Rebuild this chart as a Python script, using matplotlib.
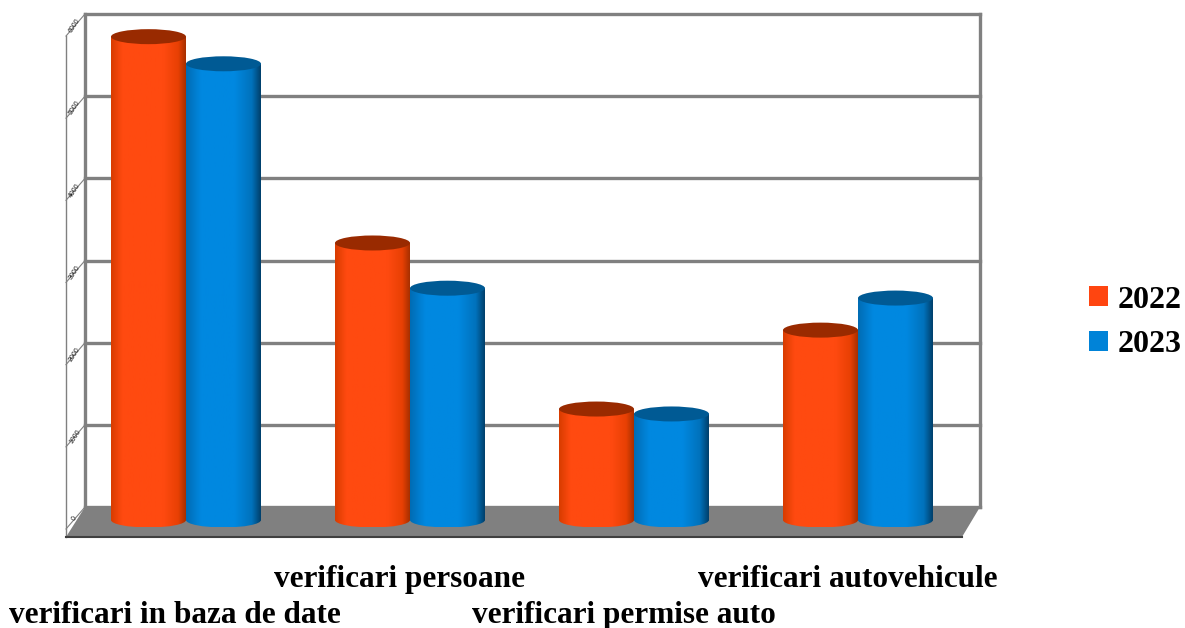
import matplotlib
matplotlib.use('Agg')
import matplotlib.pyplot as plt
import numpy as np
from matplotlib.colors import LinearSegmentedColormap
from matplotlib.patches import Ellipse, Patch, PathPatch, Polygon
from matplotlib.path import Path

categories = ['verificari in baza de date', 'verificari persoane',
              'verificari permise auto', 'verificari autovehicule']
values_2022 = [5880, 3370, 1350, 2310]
values_2023 = [5550, 2820, 1290, 2700]
y_ticks = [0, 1000, 2000, 3000, 4000, 5000, 6000]
years = ['2022', '2023']

# pixel scale of the picture: one category = 224 px, 1000 units = 82.2 px
PX_X = 224.0
PX_Y = 82.2 / 1000
X0 = 186.0
Y0 = 520.0
BAR_W = 75 / PX_X
CAP_H = 15 / PX_Y

def dx(px):
    return (px - X0) / PX_X

def dy(px):
    return (Y0 - px) / PX_Y

fig = plt.figure(figsize=(11.85, 6.28), dpi=100)
ax = fig.add_axes([0, 0, 1, 1])
ax.set_xlim(dx(0), dx(1185))
ax.set_ylim(dy(628), dy(0))
ax.axis('off')

gray = '#808080'

# back wall and floor
ax.add_patch(Polygon([(dx(66), dy(537)), (dx(85), dy(507)), (dx(980), dy(507)), (dx(962), dy(537))],
                     closed=True, fc=gray, ec='none', zorder=1))
ax.plot([dx(66), dx(962)], [dy(537), dy(537)], color='#404040', lw=1.5, zorder=2)
ax.plot([dx(85), dx(85)], [dy(14), dy(507)], color=gray, lw=2.4, zorder=1)
ax.plot([dx(980), dx(980)], [dy(14), dy(507)], color=gray, lw=2.4, zorder=1)
ax.plot([dx(66), dx(66)], [dy(36), dy(537)], color=gray, lw=1, zorder=1)

# grid and side wall ticks
grid_px = np.linspace(507, 14, len(y_ticks))
for tick, py in zip(y_ticks, grid_px):
    ax.plot([dx(85), dx(980)], [dy(py), dy(py)], color=gray, lw=2.4, zorder=1)
    ax.plot([dx(66), dx(85)], [dy(py + 22), dy(py)], color=gray, lw=0.8, zorder=1)
    ax.text(dx(75), dy(py + 12), str(tick), fontsize=5, rotation=57, ha='center', va='center',
            family='Liberation Sans', color='#222222', zorder=3)

red_cmap = LinearSegmentedColormap.from_list(
    'red', [(0, '#d83c00'), (0.15, '#ff4a10'), (0.7, '#ff4a10'), (0.9, '#e84004'), (1, '#a83000')])
blue_cmap = LinearSegmentedColormap.from_list(
    'blue', [(0, '#006cb4'), (0.2, '#0088e0'), (0.65, '#0088e0'), (0.88, '#0072bc'), (1, '#00406c')])
gradient = np.linspace(0, 1, 128).reshape(1, -1)

def cylinder(xc, value, cmap, cap_color):
    left = xc - BAR_W / 2
    right = xc + BAR_W / 2
    k = 0.5523
    b = -CAP_H / 2
    w = BAR_W / 2
    verts = [(left, value), (left, 0),
             (left, b * k), (xc - w * k, b), (xc, b),
             (xc + w * k, b), (right, b * k), (right, 0),
             (right, value), (left, value)]
    codes = [Path.MOVETO, Path.LINETO, Path.CURVE4, Path.CURVE4, Path.CURVE4,
             Path.CURVE4, Path.CURVE4, Path.CURVE4, Path.LINETO, Path.CLOSEPOLY]
    body = PathPatch(Path(verts, codes), fc='none', ec='none', transform=ax.transData)
    ax.add_patch(body)
    im = ax.imshow(gradient, extent=[left, right, b, value], cmap=cmap, aspect='auto', zorder=4)
    im.set_clip_path(body)
    ax.add_patch(Ellipse((xc, value), BAR_W, CAP_H, fc=cap_color, ec='none', zorder=5))

for i in range(len(categories)):
    cylinder(i - BAR_W / 2, values_2022[i], red_cmap, '#992a00')
    cylinder(i + BAR_W / 2, values_2023[i], blue_cmap, '#005a94')

ax.set_xlim(dx(0), dx(1185))
ax.set_ylim(dy(628), dy(0))

# staggered category labels
serif = 'Liberation Serif'
label_y = [615.5, 579.5, 615.5, 579.5]
label_x = [175, 400, 624, 848]
for name, lx, ly in zip(categories, label_x, label_y):
    ax.text(dx(lx), dy(ly), name, fontsize=22.5, fontweight='bold', family=serif,
            ha='center', va='center', zorder=6)

handles = [Patch(fc='#ff4510', ec='none'), Patch(fc='#0083d8', ec='none')]
ax.legend(handles, years, loc='center left', bbox_to_anchor=(1089 / 1185, 1 - 322.5 / 628), frameon=False,
          prop={'family': serif, 'weight': 'bold', 'size': 23}, handlelength=0.6, handleheight=0.6,
          handletextpad=0.3, labelspacing=0.5, borderpad=0, borderaxespad=0)

fig.savefig('out.png', dpi=100)
